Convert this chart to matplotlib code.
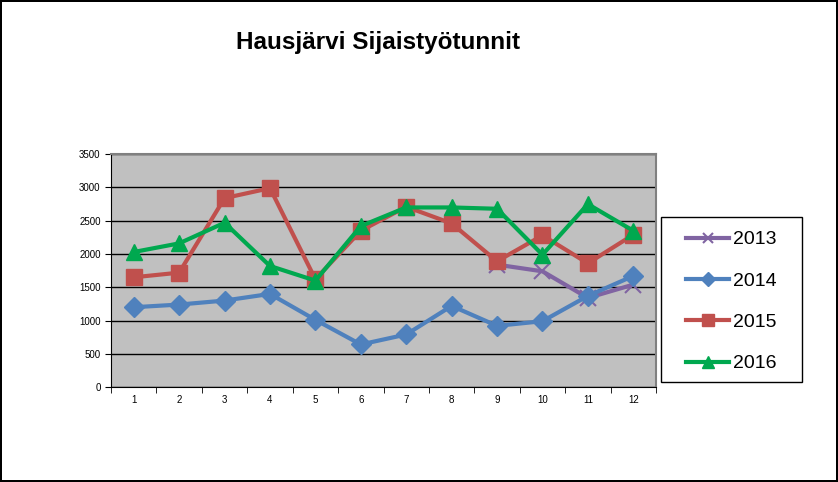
import matplotlib.pyplot as plt
from matplotlib.patches import Rectangle
import numpy as np

plt.rcParams['font.family'] = ['Liberation Sans', 'DejaVu Sans']

months = list(range(1, 13))
y2013_months = [9, 10, 11, 12]
y2013 = [1840, 1740, 1340, 1540]
y2014 = [1200, 1240, 1300, 1400, 1010, 640, 790, 1220, 920, 990, 1370, 1670]
y2015 = [1650, 1720, 2840, 2990, 1620, 2350, 2710, 2460, 1890, 2280, 1860, 2290]
y2016 = [2030, 2160, 2470, 1820, 1600, 2420, 2700, 2700, 2680, 1990, 2750, 2350]

fig = plt.figure(figsize=(8.38, 4.82), dpi=100)
fig.patch.set_edgecolor('black')
fig.patch.set_linewidth(1.5)
ax = fig.add_axes([0.1325, 0.197, 0.6503, 0.483])
ax.set_facecolor('#C0C0C0')

lw = 3
ax.plot(y2013_months, y2013, color='#8064A2', lw=lw, marker='x', ms=11, mew=1.5, label='2013', zorder=3)
ax.plot(months, y2014, color='#4F81BD', lw=lw, marker='D', ms=10, label='2014', zorder=4)
ax.plot(months, y2015, color='#C0504D', lw=lw, marker='s', ms=12, label='2015', zorder=5)
ax.plot(months, y2016, color='#00A84F', lw=lw, marker='^', ms=12, label='2016', zorder=6)

ax.set_xlim(0.5, 12.5)
ax.set_ylim(0, 3500)
ax.set_yticks(np.arange(0, 3501, 500))
ax.set_xticks(months)
ax.set_xticks(np.arange(0.5, 12.6, 1), minor=True)
ax.tick_params(axis='x', which='major', length=0, labelsize=7, pad=6)
ax.tick_params(axis='x', which='minor', length=4, direction='out')
ax.tick_params(axis='y', labelsize=7, length=4, direction='out')
ax.yaxis.grid(True, color='black', lw=1)
ax.set_axisbelow(True)
for s in ['top', 'right']:
    ax.spines[s].set_color('#808080')
    ax.spines[s].set_linewidth(1.5)
for s in ['left', 'bottom']:
    ax.spines[s].set_color('black')

fig.text(0.4505, 0.911, 'Hausjärvi Sijaistyötunnit', ha='center', va='center',
         fontsize=17.5, fontweight='bold')

# legend box
box = (661 / 838, 1 - 382 / 482, 141 / 838, 165 / 482)
fig.patches.append(Rectangle(box[:2], box[2], box[3], transform=fig.transFigure,
                             facecolor='white', edgecolor='black', lw=1, zorder=1))
handles, labels = ax.get_legend_handles_labels()
leg_box = (box[0], box[1] - 2 / 482, box[2], box[3])
leg = fig.legend(handles, labels, loc='center', bbox_to_anchor=leg_box,
                 bbox_transform=fig.transFigure, fontsize=14, frameon=False,
                 handlelength=2.2, markerscale=0.7, handletextpad=0.2,
                 labelspacing=1.22, borderpad=0.3)

fig.savefig('out.png', dpi=100, edgecolor=fig.get_edgecolor())
